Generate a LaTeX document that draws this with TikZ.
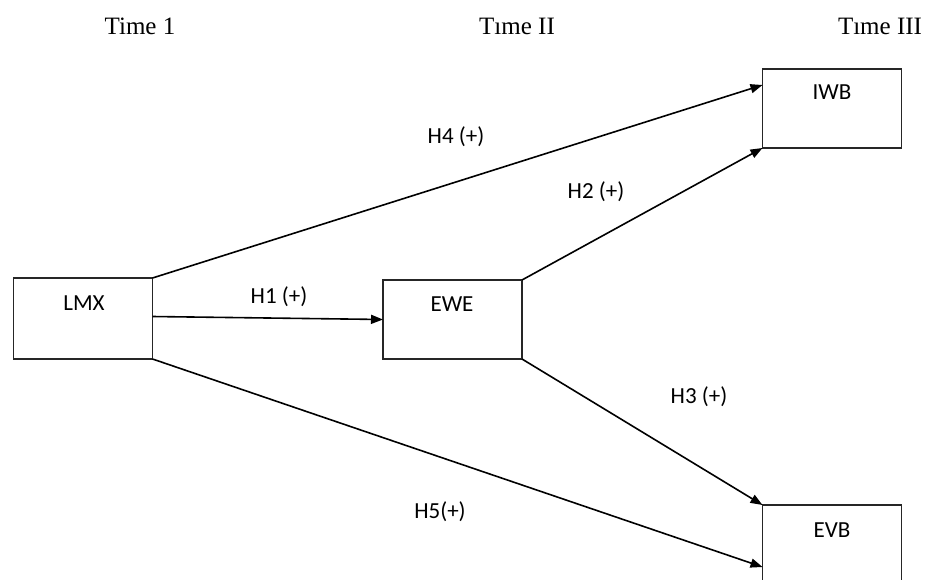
\documentclass[tikz,border=0pt]{standalone}
\usepackage{fontspec}
\setmainfont{Liberation Serif}
\newfontfamily\labfont{Carlito}
\usetikzlibrary{arrows.meta,calc}
\begin{document}
\begin{tikzpicture}[x=1pt,y=-1pt,
  box/.style={draw=black!85,line width=1.4pt,minimum width=139pt,inner sep=0pt,outer sep=0pt},
  boxtxt/.style={font=\labfont\fontsize{23}{25}\selectfont,inner sep=0pt},
  hyp/.style={font=\labfont\fontsize{23}{25}\selectfont,inner sep=0pt},
  timetxt/.style={font=\fontsize{25}{27}\selectfont,inner sep=0pt,anchor=base},
  conn/.style={line width=1.6pt,-{Triangle[length=12pt,width=9pt]}},
  plain/.style={line width=1.6pt}]
\clip (0,0) rectangle (938,579);
\fill[white] (0,0) rectangle (938,579);
% time labels
\node[timetxt] (t1) at (140,34) {Time 1};
\node[timetxt] (t2) at (517,34) {Tıme II};
\node[timetxt] (t3) at (880,34) {Tıme III};
% boxes
\node[box,minimum height=81pt] (lmx) at (83,318.5) {};
\node[box,minimum height=79pt] (ewe) at (452.5,319.5) {};
\node[box,minimum height=79pt] (iwb) at (832,108.5) {};
\node[box,minimum height=100pt] (evb) at (832,555) {};
% box texts
\node[boxtxt] (lmxt) at (84,303) {LMX};
\node[boxtxt] (ewet) at (452,304) {EWE};
\node[boxtxt] (iwbt) at (832,92) {IWB};
\node[boxtxt] (evbt) at (832,530) {EVB};
% connectors
\draw[conn] ([yshift=2pt]lmx.east) -- (ewe.west);
\draw[conn] (lmx.north east) -- ([yshift=-16pt]iwb.north west);
\draw[conn] (ewe.north east) -- (iwb.south west);
\draw[conn] (ewe.south east) -- (evb.north west);
\draw[conn] (lmx.south east) -- ([yshift=-62pt]evb.north west);
% hypothesis labels
\node[hyp] (h1) at (279,297) {H1 (+)};
\node[hyp] (h4) at (456,137) {H4 (+)};
\node[hyp] (h2) at (596,192) {H2 (+)};
\node[hyp] (h3) at (699,397) {H3 (+)};
\node[hyp] (h5) at (440,512) {H5(+)};
\end{tikzpicture}
\end{document}
